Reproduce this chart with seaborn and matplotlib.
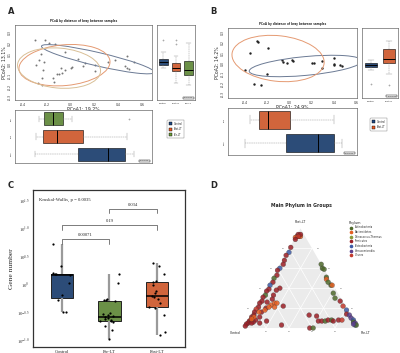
import numpy as np
import pandas as pd
import matplotlib
matplotlib.use("Agg")
import matplotlib.pyplot as plt
import seaborn as sns
from matplotlib.patches import Ellipse, Polygon, Patch
from matplotlib.lines import Line2D

sns.set_style("white")
plt.rcParams["font.family"] = ["DejaVu Sans"]
plt.rcParams["mathtext.fontset"] = "stix"

BLUE = "#1f4a85"
ORANGE = "#ea5a23"
GREEN = "#6b9c3b"
GROUP_COLORS = {"Control": BLUE, "Post-LT": ORANGE, "Pre-LT": GREEN}
ELLIPSE_COLORS = {"Control": "#6b7a94", "Post-LT": "#e59a72", "Pre-LT": "#d9bf96"}

# ==========================================
# DATA
# ==========================================

# A: PCoA (bray), three groups
a_groups = ["Control", "Post-LT", "Pre-LT"]
a_ctrl_x = [-0.30, -0.05, 0.06, 0.20, 0.31, 0.37, 0.45, 0.47, 0.53]
a_ctrl_y = [0.23, 0.12, 0.06, 0.00, 0.03, 0.05, -0.01, -0.03, 0.03]
a_post_x = [-0.21, -0.13, -0.29, -0.23, -0.27, -0.24, -0.11, -0.08, 0.00, 0.10, 0.12, 0.20, 0.47]
a_post_y = [0.23, 0.19, 0.00, -0.045, -0.17, -0.12, -0.08, -0.025, -0.03, -0.01, 0.016, -0.06, 0.08]
a_pre_x = [-0.18, -0.25, -0.26, -0.22, -0.24, -0.14, -0.15, -0.10, -0.07, -0.05, 0.008, 0.49]
a_pre_y = [0.20, 0.10, 0.05, 0.03, -0.185, -0.16, -0.12, -0.08, -0.07, -0.05, -0.02, -0.04]

# B: PCoA (bray), two groups
b_groups = ["Control", "Post-LT"]
b_ctrl_x = [-0.40, -0.32, -0.06, -0.02, 0.02, 0.22, 0.29, 0.29, 0.40, 0.40, 0.46, 0.47]
b_ctrl_y = [-0.066, -0.20, 0.016, 0.00, 0.03, 0.005, 0.025, -0.05, -0.01, -0.015, -0.02, -0.03]
b_post_x = [-0.355, -0.295, -0.28, -0.26, -0.20, -0.19, -0.07, 0.03, 0.20, 0.40]
b_post_y = [0.10, 0.22, 0.21, -0.21, -0.10, 0.15, 0.03, 0.02, 0.00, 0.05]

# C: gene number (log10) per group
c_groups = ["Control", "Pre-LT", "Post-LT"]
c_colors = {"Control": BLUE, "Pre-LT": GREEN, "Post-LT": ORANGE}
c_control = [-0.49, -0.48, -0.27, -0.18, 0.04, 0.18, 0.19, 0.20, 0.21, 0.34, 0.73]
c_pre = [-0.96, -0.80, -0.73, -0.66, -0.65, -0.64, -0.62, -0.60, -0.59, -0.57,
         -0.56, -0.54, -0.52, -0.50, -0.28, -0.27, -0.26, -0.24, 0.03, 0.19]
c_post = [-0.89, -0.84, -0.54, -0.41, -0.39, -0.32, -0.25, -0.21, -0.20, -0.15,
          -0.11, 0.00, 0.05, 0.08, 0.19, 0.35, 0.39]
c_yticks = [1.5, 1.0, 0.5, 0.0, -0.5, -1.0]
c_ytick_labels = [r"$10^{1.5}$", r"$10^{1.0}$", r"$10^{0.5}$", r"$10^{0}$", r"$10^{-0.5}$", r"$10^{-1.0}$"]
c_pairs = [(0, 1), (0, 2), (1, 2)]
c_pvals = ["0.00071", "0.19", "0.034"]
c_bracket_y = [0.82, 1.07, 1.36]

# D: ternary, (Control, Pre-LT, Post-LT) percent + phylum code
phyla = ["Actinobacteria", "Bacteroidetes", "Deinococcus-Thermus", "Firmicutes",
         "Proteobacteria", "Verrucomicrobia", "Viruses"]
phylum_codes = {"A": "Actinobacteria", "B": "Bacteroidetes", "D": "Deinococcus-Thermus",
                "F": "Firmicutes", "P": "Proteobacteria", "Ve": "Verrucomicrobia", "V": "Viruses"}
phylum_colors = ["#4f6a2c", "#e35f22", "#8a9a3a", "#9b1f26", "#3d5aa6", "#5b3f8c", "#c23a2c"]

d_top = [(5, 1, 94, "F"), (7, 1, 92, "F"), (9, 0, 91, "B"), (5, 3, 92, "F"),
         (4, 4, 92, "B"), (3, 3, 94, "F"), (6, 2, 92, "V"), (10, 1, 89, "F")]
d_left = [(18, 1, 81, "F"), (22, 2, 76, "P"), (26, 1, 73, "F"), (30, 2, 68, "F"),
          (33, 3, 64, "F"), (38, 2, 60, "P"), (41, 1, 58, "F"), (44, 3, 53, "F"),
          (48, 2, 50, "A"), (51, 3, 46, "F"), (55, 2, 43, "P"), (58, 3, 39, "F"),
          (61, 2, 37, "F"), (64, 3, 33, "A"), (67, 2, 31, "F"), (70, 3, 27, "F"),
          (73, 2, 25, "F"), (76, 3, 21, "F"), (79, 2, 19, "V"), (82, 2, 16, "F"),
          (84, 3, 13, "F"), (87, 2, 11, "F"), (89, 3, 8, "F"), (91, 2, 7, "F"),
          (93, 2, 5, "F"), (95, 1, 4, "F"), (97, 1, 2, "F")]
d_inner = [(48, 12, 40, "F"), (52, 10, 38, "F"), (57, 10, 33, "F"), (60, 11, 29, "F"),
           (66, 8, 26, "F"), (70, 10, 20, "F"), (76, 8, 16, "F"), (80, 9, 11, "F"),
           (85, 7, 8, "F"), (88, 6, 6, "F"), (90, 5, 5, "F"), (83, 12, 5, "F"),
           (76, 17, 7, "F"), (65, 32, 3, "F"), (54, 24, 22, "F"), (36, 51, 13, "F"),
           (30, 58, 12, "F")]
d_orange = [(64, 13, 23, "B"), (60, 15, 25, "B"), (62, 17, 21, "B"), (67, 12, 21, "B"),
            (58, 17, 25, "B"), (72, 10, 18, "B"), (78, 6, 16, "B"), (85, 4, 11, "B"),
            (88, 3, 9, "B")]
d_bottom = [(42, 58, 0, "F"), (39, 61, 0, "A"), (31, 62, 7, "F"), (28, 65, 7, "F"),
            (25, 68, 7, "A"), (22, 70, 8, "F"), (19, 73, 8, "A"), (18, 75, 7, "F"),
            (13, 79, 8, "F"), (10, 82, 8, "V")]
d_right = [(0, 36, 64, "A"), (1, 39, 60, "A"), (0, 41, 59, "A"), (2, 47, 51, "A"),
           (3, 48, 49, "B"), (3, 51, 46, "A"), (2, 55, 43, "A"), (1, 56, 43, "B"),
           (4, 61, 35, "A"), (5, 65, 30, "A"), (2, 71, 27, "F"), (2, 76, 22, "V"),
           (1, 81, 18, "P"), (3, 83, 14, "F"), (1, 86, 13, "Ve"), (1, 89, 10, "Ve"),
           (0, 92, 8, "P"), (1, 93, 6, "A"), (0, 95, 5, "Ve"), (1, 96, 3, "P"),
           (0, 97, 3, "A"), (2, 94, 4, "Ve")]

# ==========================================
# FIGURE
# ==========================================
W, H = 400, 353
fig = plt.figure(figsize=(W / 100, H / 100), dpi=100)


def px_axes(x0, y0, x1, y1):
    return fig.add_axes([x0 / W, 1 - y1 / H, (x1 - x0) / W, (y1 - y0) / H])


def thin(ax, size=2.2, lw=0.4, color="#444444"):
    ax.tick_params(labelsize=size, length=1.2, width=0.3, pad=0.8, colors="#222222")
    for s in ax.spines.values():
        s.set_linewidth(lw)
        s.set_color(color)


def conf_ellipse(ax, x, y, color, n_std=1.7):
    cov = np.cov(x, y)
    vals, vecs = np.linalg.eigh(cov)
    idx = vals.argsort()[::-1]
    vals, vecs = vals[idx], vecs[:, idx]
    angle = np.degrees(np.arctan2(vecs[1, 0], vecs[0, 0]))
    w, h = 2 * n_std * np.sqrt(vals)
    ax.add_patch(Ellipse((np.mean(x), np.mean(y)), w, h, angle=angle,
                         fill=False, ec=color, lw=0.7))


def pcoa_panel(groups, xs, ys, sc, rb, bb, lg, xlab, ylab, xlim, ylim, pt_color, pt_size):
    df = pd.DataFrame({"group": np.repeat(groups, [len(v) for v in xs]),
                       "PC1": np.concatenate(xs), "PC2": np.concatenate(ys)})
    ax = px_axes(*sc)
    sns.scatterplot(data=df, x="PC1", y="PC2", color=pt_color, s=pt_size,
                    linewidth=0, ax=ax)
    for g, x, y in zip(groups, xs, ys):
        conf_ellipse(ax, x, y, ELLIPSE_COLORS[g])
    ax.set_xlim(xlim)
    ax.set_ylim(ylim)
    xt = [-0.4, -0.2, 0.0, 0.2, 0.4, 0.6]
    yt = [-0.3, -0.2, -0.1, 0.0, 0.1, 0.2, 0.3]
    ax.set_xticks(xt)
    ax.set_xticklabels([f"{v:.1f}" for v in xt])
    ax.set_yticks(yt)
    ax.set_yticklabels([f"{v:.1f}" for v in yt], rotation=90, va="center")
    ax.set_xlabel(xlab, fontsize=3.3, labelpad=0.3)
    ax.set_ylabel(ylab, fontsize=3.3, labelpad=0.8)
    ax.set_title("PCoA by distance of bray between samples", fontsize=2.0,
                 fontweight="bold", pad=2.5)
    thin(ax)

    box_kw = dict(hue="group", palette=GROUP_COLORS, linewidth=0.4, linecolor="black",
                  fliersize=0.8, legend=False,
                  whiskerprops=dict(color="#8a8a8a", linewidth=0.3, linestyle="--"),
                  capprops=dict(color="#8a8a8a", linewidth=0.3),
                  medianprops=dict(color="black", linewidth=0.7),
                  flierprops=dict(markeredgecolor="#777777", markeredgewidth=0.3))

    axr = px_axes(*rb)
    sns.boxplot(data=df, x="group", y="PC2", order=groups, hue_order=groups,
                width=0.7, ax=axr, **box_kw)
    axr.set_ylim(ylim)
    axr.set_yticks([])
    axr.set_xlabel("")
    axr.set_ylabel("")
    thin(axr, size=1.6)
    axr.text(0.96, 0.02, "p=0.001", transform=axr.transAxes, ha="right", va="bottom",
             fontsize=1.5, bbox=dict(fc="white", ec="black", lw=0.3, pad=0.6))

    axb = px_axes(*bb)
    sns.boxplot(data=df, x="PC1", y="group", order=groups[::-1], hue_order=groups,
                width=0.75, orient="h", ax=axb, **box_kw)
    axb.set_xlim(xlim)
    axb.set_xticks([])
    axb.set_xlabel("")
    axb.set_ylabel("")
    axb.set_yticks(range(len(groups)))
    axb.set_yticklabels([g[:3] for g in groups[::-1]], rotation=90, va="center")
    thin(axb, size=1.6)
    axb.text(0.98, 0.03, "p=0.001", transform=axb.transAxes, ha="right", va="bottom",
             fontsize=1.5, bbox=dict(fc="white", ec="black", lw=0.3, pad=0.6))

    handles = [Patch(fc=GROUP_COLORS[g], ec="black", lw=0.3, label=g) for g in groups]
    leg = fig.legend(handles=handles, loc="upper left",
                     bbox_to_anchor=(lg[0] / W, 1 - lg[1] / H), fontsize=1.8,
                     frameon=True, handlelength=1.4, handleheight=1.4,
                     borderpad=0.6, labelspacing=0.6, handletextpad=0.6)
    leg.get_frame().set_linewidth(0.3)
    leg.get_frame().set_edgecolor("#555555")


# ---------------- A
pcoa_panel(a_groups, [a_ctrl_x, a_post_x, a_pre_x], [a_ctrl_y, a_post_y, a_pre_y],
           sc=(15, 25, 152, 100), rb=(157, 25, 195, 100), bb=(15, 110, 152, 163),
           lg=(166, 119), xlab="PCoA1: 19.2%", ylab="PCoA2: 13.1%",
           xlim=(-0.464, 0.678), ylim=(-0.324, 0.37), pt_color="#777777", pt_size=2)
fig.text(8 / W, 1 - 12 / H, "A", fontsize=6, fontweight="bold", va="center")

# ---------------- B
pcoa_panel(b_groups, [b_ctrl_x, b_post_x], [b_ctrl_y, b_post_y],
           sc=(228, 28, 357, 98), rb=(362, 28, 398, 98), bb=(228, 108, 357, 155),
           lg=(369, 117), xlab="PCoA1: 24.9%", ylab="PCoA2: 14.2%",
           xlim=(-0.553, 0.609), ylim=(-0.34, 0.346), pt_color="#222222", pt_size=3)
fig.text(210 / W, 1 - 12 / H, "B", fontsize=6, fontweight="bold", va="center")

# ---------------- C
dc = pd.DataFrame({"group": ["Control"] * len(c_control) + ["Pre-LT"] * len(c_pre)
                   + ["Post-LT"] * len(c_post),
                   "gene": c_control + c_pre + c_post})
axc = px_axes(33, 190, 185, 347)
sns.boxplot(data=dc, x="group", y="gene", order=c_groups, hue="group", hue_order=c_groups,
            palette=c_colors, width=0.48, linewidth=0.7, linecolor="#222222",
            showfliers=False, legend=False, ax=axc,
            whiskerprops=dict(color="#9a9a9a", linewidth=1.6),
            capprops=dict(linewidth=0),
            medianprops=dict(color="black", linewidth=1.1))
np.random.seed(3)
sns.stripplot(data=dc, x="group", y="gene", order=c_groups, color="black", size=1.6,
              jitter=0.2, ax=axc)
axc.set_xlim(-0.61, 2.59)
axc.set_ylim(-1.107, 1.70)
axc.set_yticks(c_yticks)
axc.set_yticklabels(c_ytick_labels)
axc.set_xlabel("")
axc.set_ylabel("Gene number", fontsize=5.4, family="Liberation Serif", labelpad=2)
axc.tick_params(labelsize=3.3, length=1.5, width=0.4, pad=1)
for lab in axc.get_xticklabels():
    lab.set_family("Liberation Serif")
for s in axc.spines.values():
    s.set_linewidth(0.9)
    s.set_color("#333333")
for (i, j), p, y in zip(c_pairs, c_pvals, c_bracket_y):
    axc.plot([i, i, j, j], [y - 0.08, y, y, y - 0.08], color="#666666", lw=0.6)
    axc.text((i + j) / 2, y + 0.04, p, ha="center", va="bottom", fontsize=3.3,
             family="Liberation Serif")
axc.text(0.04, 0.95, "Kruskal-Wallis, p = 0.0035", transform=axc.transAxes,
         ha="left", va="top", fontsize=3.4, family="Liberation Serif")
fig.text(8 / W, 1 - 185 / H, "C", fontsize=6, fontweight="bold", va="center")

# ---------------- D
rows = d_top + d_left + d_inner + d_orange + d_bottom + d_right
dd = pd.DataFrame(rows, columns=["Control", "Pre", "Post", "code"])
tot = dd[["Control", "Pre", "Post"]].sum(axis=1)
h = np.sqrt(3) / 2
dd["tx"] = (dd["Pre"] + dd["Post"] / 2) / tot
dd["ty"] = dd["Post"] * h / tot
dd["Phylum"] = dd["code"].map(phylum_codes)

axd = px_axes(230, 215, 370, 340)
axd.set_xlim(-0.113, 1.104)
axd.set_ylim(-0.104, 0.983)
axd.axis("off")
axd.add_patch(Polygon([[0, 0], [1, 0], [0.5, h]], closed=True, fc="#ebebeb", ec="none", zorder=0))
for f in [0.2, 0.4, 0.6, 0.8]:
    axd.plot([f / 2, 1 - f / 2], [f * h, f * h], color="white", lw=0.5, zorder=1)
    axd.plot([f, f + (1 - f) / 2], [0, (1 - f) * h], color="white", lw=0.5, zorder=1)
    axd.plot([1 - f, (1 - f) / 2], [0, (1 - f) * h], color="white", lw=0.5, zorder=1)
    axd.text(f, -0.03, f"{int(f * 100)}", fontsize=1.6, color="#777777", ha="center", va="top")
    axd.text(1 - f / 2 + 0.04, f * h, f"{int(f * 100)}", fontsize=1.6, color="#777777", va="center")
    axd.text((1 - f) / 2 - 0.04, (1 - f) * h, f"{int(f * 100)}", fontsize=1.6, color="#777777",
             ha="right", va="center")
sns.scatterplot(data=dd, x="tx", y="ty", hue="Phylum", hue_order=phyla,
                palette=phylum_colors, s=12, alpha=0.85, linewidth=0.2,
                edgecolor="#333333", legend=False, ax=axd, zorder=3)
axd.text(0.5, h + 0.04, "Post-LT", fontsize=2.3, ha="center", va="bottom")
axd.text(-0.02, -0.03, "Control", fontsize=2.3, ha="right", va="top")
axd.text(1.02, -0.03, "Pre-LT", fontsize=2.3, ha="left", va="top")
fig.text(301 / W, 1 - 206 / H, "Main Phylum in Groups", fontsize=3.3,
         fontweight="bold", ha="center", va="center")
handles = [Line2D([], [], marker="o", ls="", color=c, markersize=1.6, label=p)
           for p, c in zip(phyla, phylum_colors)]
leg = fig.legend(handles=handles, title="Phylum", loc="upper left",
                 bbox_to_anchor=(347 / W, 1 - 219 / H), fontsize=1.8, title_fontsize=2.4,
                 frameon=False, handletextpad=0.4, labelspacing=0.25, borderpad=0.2)
leg._legend_box.align = "left"
fig.text(210 / W, 1 - 185 / H, "D", fontsize=6, fontweight="bold", va="center")

fig.savefig("out.png", dpi=100)
